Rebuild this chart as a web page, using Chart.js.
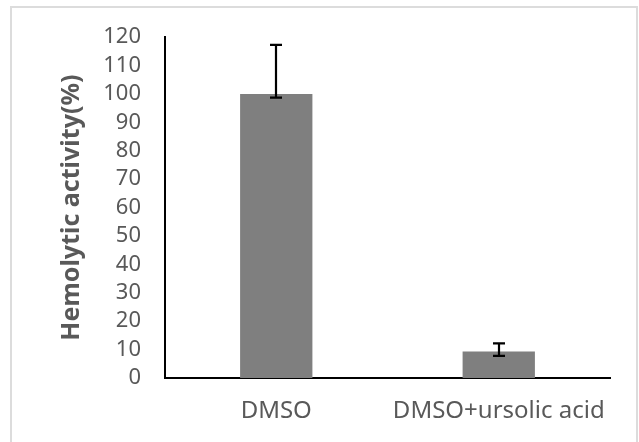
<!DOCTYPE html>
<html>
<head>
<meta charset="utf-8">
<style>
  html, body { margin: 0; padding: 0; background: #ffffff; }
  #wrap { width: 639px; height: 442px; }
</style>
<script src="https://cdn.jsdelivr.net/npm/chart.js@4/dist/chart.umd.min.js"></script>
</head>
<body>
<div id="wrap"><canvas id="chart" width="639" height="442"></canvas></div>
<script>
// Hemolytic activity per treatment, with upper / lower error limits
const categories = ['DMSO', 'DMSO+ursolic acid'];
const activity = [100, 9.3];
const errorHigh = [117.3, 12.2];
const errorLow = [98.7, 7.8];
const yTicks = [0, 10, 20, 30, 40, 50, 60, 70, 80, 90, 100, 110, 120];

const textGrey = '#595959';
const fontFamily = '"Noto Sans", "Open Sans", sans-serif';

// light frame around the whole figure
const framePlugin = {
  id: 'frame',
  beforeDraw(chart) {
    const ctx = chart.ctx;
    ctx.save();
    ctx.strokeStyle = '#dcdcdc';
    ctx.lineWidth = 2;
    ctx.strokeRect(11, 7, 626, 460);
    ctx.restore();
  }
};

// vertical error bars with caps, drawn from errorHigh / errorLow
const errorBarPlugin = {
  id: 'errorBars',
  afterDatasetsDraw(chart) {
    const ctx = chart.ctx;
    const y = chart.scales.y;
    const meta = chart.getDatasetMeta(0);
    ctx.save();
    ctx.strokeStyle = '#000000';
    ctx.lineWidth = 2.2;
    const cap = 6;
    meta.data.forEach((bar, i) => {
      const x = Math.round(bar.x);
      const yHi = y.getPixelForValue(errorHigh[i]);
      const yLo = y.getPixelForValue(errorLow[i]);
      ctx.beginPath();
      ctx.moveTo(x, yHi);
      ctx.lineTo(x, yLo);
      ctx.moveTo(x - cap, yHi);
      ctx.lineTo(x + cap, yHi);
      ctx.moveTo(x - cap, yLo);
      ctx.lineTo(x + cap, yLo);
      ctx.stroke();
    });
    ctx.restore();
  }
};

new Chart(document.getElementById('chart'), {
  type: 'bar',
  data: {
    labels: categories,
    datasets: [{
      data: activity,
      backgroundColor: '#7f7f7f',
      borderWidth: 0,
      categoryPercentage: 1,
      barPercentage: 0.325
    }]
  },
  options: {
    responsive: false,
    animation: false,
    layout: { padding: { top: 37, right: 29, left: 0, bottom: 0 } },
    plugins: {
      legend: { display: false },
      tooltip: { enabled: false }
    },
    scales: {
      x: {
        grid: { display: false, drawTicks: false },
        border: { display: true, color: '#000000', width: 2 },
        ticks: {
          color: textGrey,
          font: { family: fontFamily, size: 24 },
          padding: 19,
          maxRotation: 0,
          autoSkip: false
        },
        afterFit(scale) { scale.height = 64; }
      },
      y: {
        min: 0,
        max: 120,
        afterBuildTicks(scale) { scale.ticks = yTicks.map(v => ({ value: v })); },
        grid: { display: false, drawTicks: false },
        border: { display: true, color: '#000000', width: 2 },
        ticks: {
          color: textGrey,
          font: { family: fontFamily, size: 22 },
          padding: 24,
          autoSkip: false
        },
        title: {
          display: true,
          text: 'Hemolytic activity(%)',
          color: textGrey,
          font: { family: fontFamily, size: 25, weight: 'bold' },
          padding: { top: 57, bottom: 0 }
        },
        afterFit(scale) { scale.width = 165; }
      }
    }
  },
  plugins: [framePlugin, errorBarPlugin]
});
</script>
</body>
</html>
